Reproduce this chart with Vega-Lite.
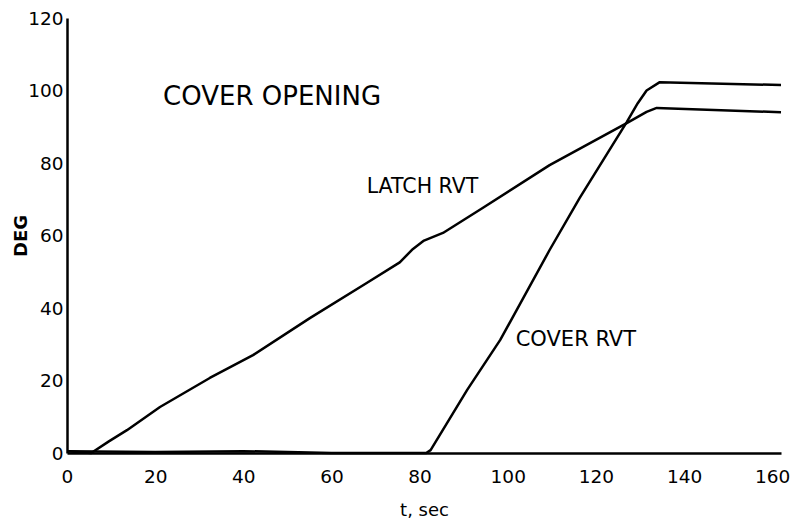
{
  "$schema": "https://vega.github.io/schema/vega-lite/v6.json",
  "width": 714,
  "height": 435,
  "autosize": {"type": "none"},
  "padding": {"left": 67, "top": 18, "right": 16, "bottom": 79},
  "background": "white",
  "config": {
    "view": {"stroke": null},
    "font": "DejaVu Sans",
    "axis": {"domainColor": "black", "domainWidth": 2.5, "ticks": false, "grid": false, "labelColor": "black", "titleColor": "black", "labelFont": "DejaVu Sans", "titleFont": "DejaVu Sans"}
  },
  "datasets": {
    "curves": [
      {"series": "LATCH RVT", "t": 0, "deg": 0.5},
      {"series": "LATCH RVT", "t": 5.5, "deg": 0},
      {"series": "LATCH RVT", "t": 9.5, "deg": 3.2},
      {"series": "LATCH RVT", "t": 13.6, "deg": 6.3},
      {"series": "LATCH RVT", "t": 21.1, "deg": 12.7},
      {"series": "LATCH RVT", "t": 32.4, "deg": 20.7},
      {"series": "LATCH RVT", "t": 42.2, "deg": 27.0},
      {"series": "LATCH RVT", "t": 55.1, "deg": 37.2},
      {"series": "LATCH RVT", "t": 68.0, "deg": 46.9},
      {"series": "LATCH RVT", "t": 75.5, "deg": 52.6},
      {"series": "LATCH RVT", "t": 78.5, "deg": 56.3},
      {"series": "LATCH RVT", "t": 81.0, "deg": 58.6},
      {"series": "LATCH RVT", "t": 85.3, "deg": 60.7},
      {"series": "LATCH RVT", "t": 94.3, "deg": 67.6},
      {"series": "LATCH RVT", "t": 109.5, "deg": 79.4},
      {"series": "LATCH RVT", "t": 127.0, "deg": 91.0},
      {"series": "LATCH RVT", "t": 131.5, "deg": 94.1},
      {"series": "LATCH RVT", "t": 133.8, "deg": 95.2},
      {"series": "LATCH RVT", "t": 162, "deg": 94.0},
      {"series": "COVER RVT", "t": 0, "deg": 0.5},
      {"series": "COVER RVT", "t": 20, "deg": 0.3},
      {"series": "COVER RVT", "t": 40, "deg": 0.5},
      {"series": "COVER RVT", "t": 45, "deg": 0.4},
      {"series": "COVER RVT", "t": 60, "deg": 0.0},
      {"series": "COVER RVT", "t": 81.5, "deg": 0.0},
      {"series": "COVER RVT", "t": 82.5, "deg": 0.8},
      {"series": "COVER RVT", "t": 90.8, "deg": 17.4},
      {"series": "COVER RVT", "t": 98.3, "deg": 31.2},
      {"series": "COVER RVT", "t": 109.5, "deg": 56.0},
      {"series": "COVER RVT", "t": 116.3, "deg": 70.3},
      {"series": "COVER RVT", "t": 127.0, "deg": 91.3},
      {"series": "COVER RVT", "t": 129.5, "deg": 96.5},
      {"series": "COVER RVT", "t": 131.5, "deg": 100.0},
      {"series": "COVER RVT", "t": 134.5, "deg": 102.3},
      {"series": "COVER RVT", "t": 162, "deg": 101.5}
    ],
    "notes": [
      {"label": "COVER OPENING", "t": 21.8, "deg": 98.2, "size": 26},
      {"label": "LATCH RVT", "t": 68.0, "deg": 73.4, "size": 20.5},
      {"label": "COVER RVT", "t": 101.8, "deg": 31.2, "size": 21}
    ]
  },
  "layer": [
    {
      "data": {"name": "curves"},
      "mark": {"type": "line", "color": "black", "strokeWidth": 2.5, "interpolate": "linear", "strokeJoin": "round"},
      "encoding": {
        "x": {"field": "t", "type": "quantitative", "scale": {"domain": [0, 162], "nice": false},
          "axis": {"title": "t, sec", "values": [0, 20, 40, 60, 80, 100, 120, 140, 160], "labelFontSize": 18.5, "labelPadding": 14, "titleFontSize": 18, "titleFontWeight": "normal", "titlePadding": 16, "labelFlush": false}},
        "y": {"field": "deg", "type": "quantitative", "scale": {"domain": [0, 120], "nice": false},
          "axis": {"title": "DEG", "values": [0, 20, 40, 60, 80, 100, 120], "labelFontSize": 18.5, "labelPadding": 4, "titleFontSize": 18, "titleFontWeight": "bold", "titlePadding": -3}},
        "detail": {"field": "series"}
      }
    },
    {
      "data": {"name": "notes"},
      "mark": {"type": "text", "align": "left", "baseline": "middle", "color": "black", "font": "DejaVu Sans"},
      "encoding": {
        "x": {"field": "t", "type": "quantitative"},
        "y": {"field": "deg", "type": "quantitative"},
        "text": {"field": "label"},
        "size": {"field": "size", "type": "quantitative", "scale": null}
      }
    }
  ]
}
